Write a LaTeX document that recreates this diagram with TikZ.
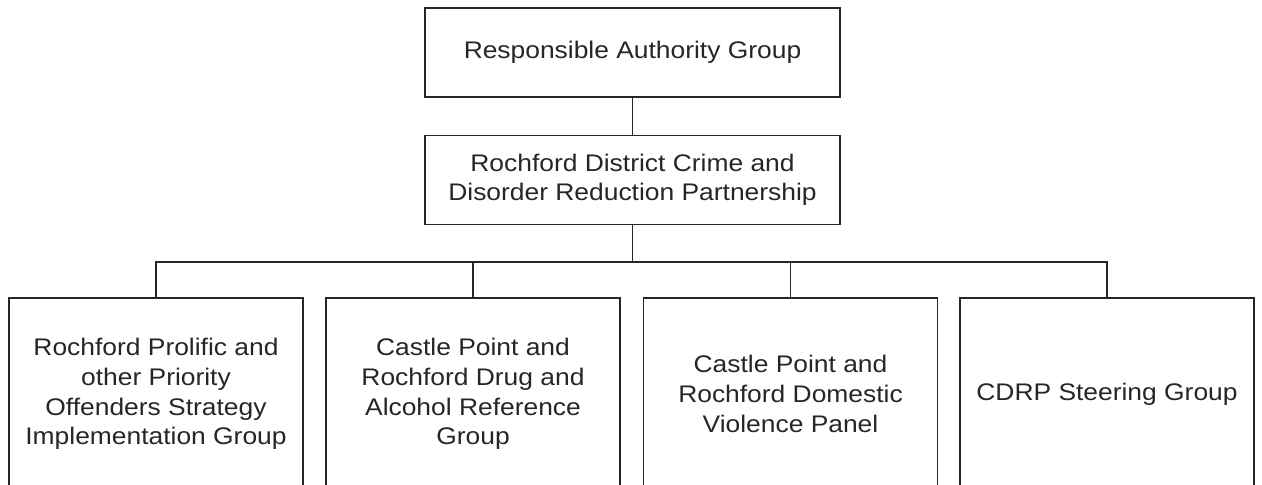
\documentclass[tikz,border=0pt]{standalone}
\usepackage{fontspec}
\setmainfont{Liberation Sans}[FakeStretch=1.1]
\begin{document}
\begin{tikzpicture}[x=0.5pt,y=-0.5pt,
  box/.style={draw=black!85,line width=0.7pt,align=center,inner sep=0pt,
    font=\fontsize{12}{14.8}\selectfont,text=black!85},
  topbox/.style={box,minimum width=207.5pt,minimum height=44.5pt},
  subbox/.style={box,minimum width=147pt,minimum height=96pt},
  conn/.style={draw=black!85,line width=0.7pt}]
\useasboundingbox (0,0) rectangle (1262,485);
\clip (0,0) rectangle (1262,485);
\node[topbox] (rag) at (632.5,52.5) {Responsible Authority Group};
\node[topbox] (cdrp) at (632.5,180) {Rochford District Crime and\\Disorder Reduction Partnership};
\node[subbox] (b1) at (156,394) {Rochford Prolific and\\other Priority\\Offenders Strategy\\Implementation Group};
\node[subbox] (b2) at (473,394) {Castle Point and\\Rochford Drug and\\Alcohol Reference\\Group};
\node[subbox] (b3) at (790.5,394) {Castle Point and\\Rochford Domestic\\Violence Panel};
\node[subbox] (b4) at (1107,394) {CDRP Steering Group};
\coordinate (bus) at (632.5,262);
\draw[conn] (rag.south) -- (cdrp.north);
\draw[conn] (cdrp.south) -- (bus);
\draw[conn] (b1.north) |- (b4.north |- bus) -- (b4.north);
\draw[conn] (b2.north) -- (b2.north |- bus);
\draw[conn] (b3.north) -- (b3.north |- bus);
\end{tikzpicture}
\end{document}
